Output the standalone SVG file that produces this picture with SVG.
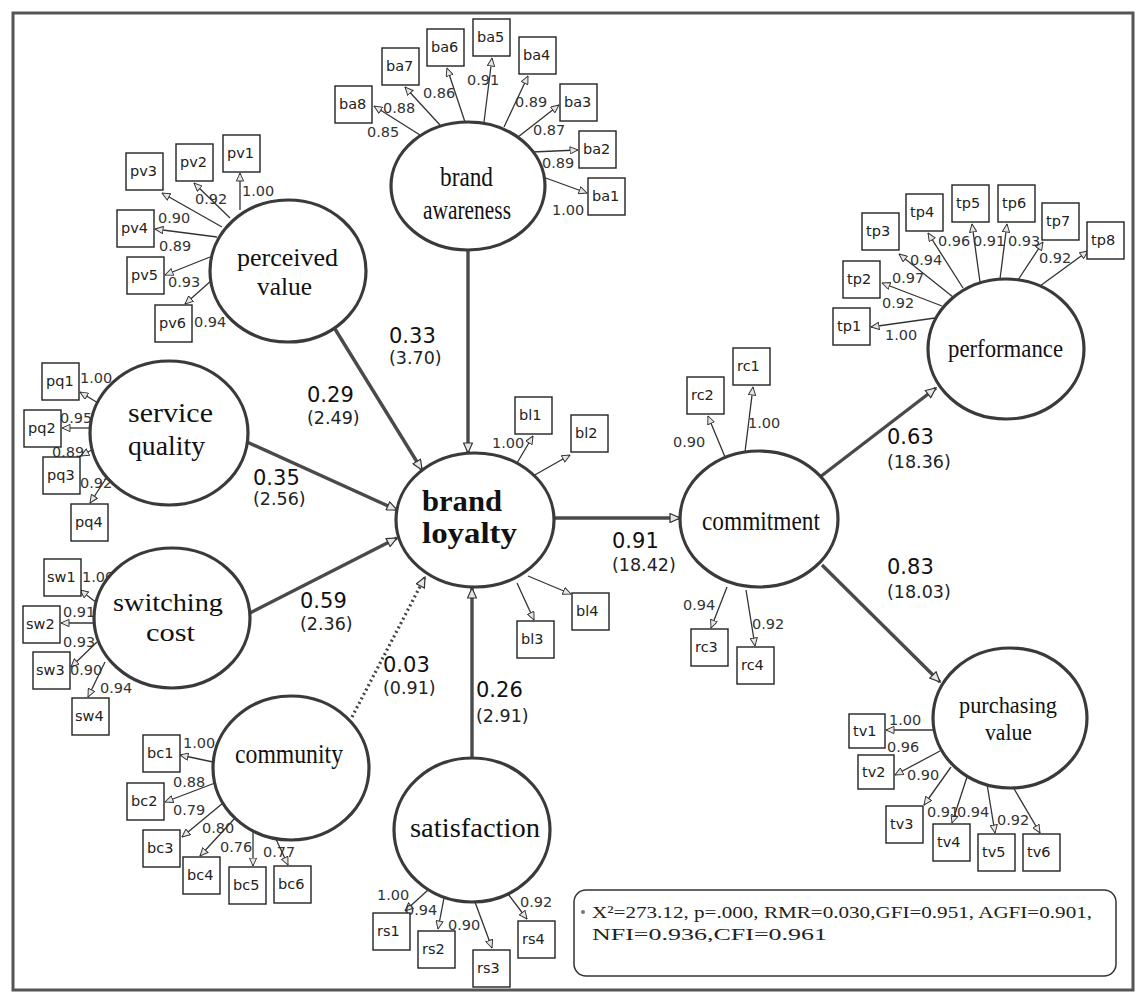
<svg xmlns="http://www.w3.org/2000/svg" width="1142" height="997" viewBox="0 0 1142 997">
<style>
.lat{fill:#fff;stroke:#3a3a3a;stroke-width:3.2}
.box{fill:#fff;stroke:#222;stroke-width:1.4}
.bt{font-family:"DejaVu Sans",sans-serif;font-size:14.5px;fill:#222}
.lt{font-family:"Liberation Serif",serif;font-size:26px;fill:#111}
.ld{font-family:"DejaVu Sans",sans-serif;font-size:14.5px;fill:#333}
.pc{font-family:"DejaVu Sans",sans-serif;font-size:21px;fill:#111}
.pt{font-family:"DejaVu Sans",sans-serif;font-size:17.5px;fill:#222}
.ind{stroke:#333;stroke-width:1.3;fill:none;marker-end:url(#ah)}
.str{stroke:#4a4a4a;stroke-width:3.4;fill:none;marker-end:url(#ahb)}
.dot{stroke:#444;stroke-width:3.2;fill:none;stroke-dasharray:2 3;marker-end:url(#ahb)}
.st{font-family:"Liberation Serif",serif;font-size:17px;fill:#222}
</style>
<defs>
<marker id="ah" viewBox="0 0 10 10" refX="10" refY="5" markerWidth="9" markerHeight="8" markerUnits="userSpaceOnUse" orient="auto"><path d="M0,0.5 L10,5 L0,9.5 z" fill="#e6e6e6" stroke="#333" stroke-width="1.2"/></marker>
<marker id="ahb" viewBox="0 0 10 10" refX="10" refY="5" markerWidth="12" markerHeight="10" markerUnits="userSpaceOnUse" orient="auto"><path d="M0,0.5 L10,5 L0,9.5 z" fill="#e6e6e6" stroke="#333" stroke-width="1.2"/></marker>
</defs>
<rect x="0" y="0" width="1142" height="997" fill="#fff"/>
<rect x="13" y="13" width="1120" height="977" fill="none" stroke="#555" stroke-width="3"/>

<g id="connectors">
<line class="str" x1="335" y1="329" x2="422" y2="470"/>
<line class="str" x1="468" y1="250" x2="468" y2="453"/>
<line class="str" x1="247" y1="442" x2="397" y2="510"/>
<line class="str" x1="250" y1="613" x2="397" y2="538"/>
<line class="dot" x1="352" y1="717" x2="425" y2="577"/>
<line class="str" x1="472" y1="758" x2="472" y2="588"/>
<line class="str" x1="555" y1="518" x2="680" y2="518"/>
<line class="str" x1="820" y1="477" x2="936" y2="388"/>
<line class="str" x1="822" y1="565" x2="940" y2="682"/>
<line class="ind" x1="420" y1="135" x2="374" y2="106"/>
<line class="ind" x1="440" y1="125" x2="405" y2="87"/>
<line class="ind" x1="465" y1="122" x2="447" y2="68"/>
<line class="ind" x1="484" y1="122" x2="492" y2="58"/>
<line class="ind" x1="504" y1="127" x2="528" y2="76"/>
<line class="ind" x1="518" y1="137" x2="559" y2="105"/>
<line class="ind" x1="532" y1="152" x2="578" y2="150"/>
<line class="ind" x1="543" y1="177" x2="587" y2="193"/>
<line class="ind" x1="240" y1="210" x2="240" y2="173"/>
<line class="ind" x1="230" y1="218" x2="194" y2="183"/>
<line class="ind" x1="222" y1="227" x2="162" y2="193"/>
<line class="ind" x1="217" y1="237" x2="155" y2="229"/>
<line class="ind" x1="210" y1="257" x2="165" y2="275"/>
<line class="ind" x1="212" y1="280" x2="185" y2="304"/>
<line class="ind" x1="98" y1="403" x2="80" y2="392"/>
<line class="ind" x1="92" y1="428" x2="62" y2="428"/>
<line class="ind" x1="95" y1="448" x2="81" y2="456"/>
<line class="ind" x1="107" y1="477" x2="90" y2="503"/>
<line class="ind" x1="97" y1="603" x2="80" y2="590"/>
<line class="ind" x1="94" y1="623" x2="61" y2="623"/>
<line class="ind" x1="97" y1="642" x2="71" y2="667"/>
<line class="ind" x1="105" y1="662" x2="88" y2="697"/>
<line class="ind" x1="213" y1="762" x2="180" y2="755"/>
<line class="ind" x1="215" y1="783" x2="165" y2="802"/>
<line class="ind" x1="223" y1="803" x2="182" y2="837"/>
<line class="ind" x1="235" y1="818" x2="200" y2="856"/>
<line class="ind" x1="253" y1="830" x2="253" y2="866"/>
<line class="ind" x1="275" y1="837" x2="288" y2="865"/>
<line class="ind" x1="428" y1="890" x2="405" y2="911"/>
<line class="ind" x1="444" y1="898" x2="438" y2="929"/>
<line class="ind" x1="475" y1="902" x2="492" y2="948"/>
<line class="ind" x1="508" y1="894" x2="527" y2="919"/>
<line class="ind" x1="517" y1="463" x2="533" y2="436"/>
<line class="ind" x1="533" y1="476" x2="570" y2="455"/>
<line class="ind" x1="517" y1="583" x2="534" y2="620"/>
<line class="ind" x1="528" y1="576" x2="571" y2="594"/>
<line class="ind" x1="745" y1="452" x2="753" y2="387"/>
<line class="ind" x1="725" y1="457" x2="708" y2="416"/>
<line class="ind" x1="727" y1="587" x2="711" y2="628"/>
<line class="ind" x1="746" y1="590" x2="755" y2="646"/>
<line class="ind" x1="935" y1="318" x2="871" y2="327"/>
<line class="ind" x1="942" y1="306" x2="882" y2="283"/>
<line class="ind" x1="953" y1="297" x2="899" y2="254"/>
<line class="ind" x1="963" y1="288" x2="928" y2="233"/>
<line class="ind" x1="980" y1="282" x2="972" y2="224"/>
<line class="ind" x1="1000" y1="279" x2="1007" y2="224"/>
<line class="ind" x1="1018" y1="280" x2="1043" y2="242"/>
<line class="ind" x1="1040" y1="286" x2="1088" y2="251"/>
<line class="ind" x1="933" y1="730" x2="886" y2="730"/>
<line class="ind" x1="940" y1="751" x2="895" y2="775"/>
<line class="ind" x1="951" y1="767" x2="924" y2="805"/>
<line class="ind" x1="967" y1="777" x2="952" y2="823"/>
<line class="ind" x1="987" y1="784" x2="995" y2="833"/>
<line class="ind" x1="1013" y1="787" x2="1040" y2="833"/>
<text class="pc" x="389" y="343">0.33</text><text class="pt" x="389" y="364">(3.70)</text>
<text class="pc" x="307" y="402">0.29</text><text class="pt" x="307" y="424">(2.49)</text>
<text class="pc" x="253" y="485">0.35</text><text class="pt" x="253" y="505">(2.56)</text>
<text class="pc" x="300" y="608">0.59</text><text class="pt" x="300" y="630">(2.36)</text>
<text class="pc" x="383" y="672">0.03</text><text class="pt" x="383" y="694">(0.91)</text>
<text class="pc" x="476" y="697">0.26</text><text class="pt" x="476" y="722">(2.91)</text>
<text class="pc" x="612" y="548">0.91</text><text class="pt" x="612" y="571">(18.42)</text>
<text class="pc" x="887" y="444">0.63</text><text class="pt" x="887" y="468">(18.36)</text>
<text class="pc" x="887" y="574">0.83</text><text class="pt" x="887" y="598">(18.03)</text>
<text class="ld" x="367" y="137">0.85</text>
<text class="ld" x="383" y="113">0.88</text>
<text class="ld" x="423" y="98">0.86</text>
<text class="ld" x="467" y="85">0.91</text>
<text class="ld" x="515" y="107">0.89</text>
<text class="ld" x="533" y="135">0.87</text>
<text class="ld" x="542" y="168">0.89</text>
<text class="ld" x="552" y="215">1.00</text>
<text class="ld" x="242" y="196">1.00</text>
<text class="ld" x="195" y="204">0.92</text>
<text class="ld" x="158" y="223">0.90</text>
<text class="ld" x="159" y="251">0.89</text>
<text class="ld" x="168" y="287">0.93</text>
<text class="ld" x="194" y="327">0.94</text>
<text class="ld" x="80" y="383">1.00</text>
<text class="ld" x="60" y="423">0.95</text>
<text class="ld" x="52" y="457">0.89</text>
<text class="ld" x="80" y="488">0.92</text>
<text class="ld" x="82" y="582">1.00</text>
<text class="ld" x="63" y="617">0.91</text>
<text class="ld" x="63" y="647">0.93</text>
<text class="ld" x="70" y="675">0.90</text>
<text class="ld" x="100" y="693">0.94</text>
<text class="ld" x="183" y="748">1.00</text>
<text class="ld" x="173" y="787">0.88</text>
<text class="ld" x="173" y="815">0.79</text>
<text class="ld" x="202" y="833">0.80</text>
<text class="ld" x="220" y="852">0.76</text>
<text class="ld" x="263" y="857">0.77</text>
<text class="ld" x="377" y="900">1.00</text>
<text class="ld" x="405" y="915">0.94</text>
<text class="ld" x="448" y="930">0.90</text>
<text class="ld" x="520" y="907">0.92</text>
<text class="ld" x="492" y="448">1.00</text>
<text class="ld" x="748" y="428">1.00</text>
<text class="ld" x="673" y="447">0.90</text>
<text class="ld" x="683" y="610">0.94</text>
<text class="ld" x="752" y="629">0.92</text>
<text class="ld" x="885" y="340">1.00</text>
<text class="ld" x="882" y="308">0.92</text>
<text class="ld" x="892" y="283">0.97</text>
<text class="ld" x="910" y="265">0.94</text>
<text class="ld" x="938" y="246">0.96</text>
<text class="ld" x="973" y="246">0.91</text>
<text class="ld" x="1008" y="246">0.93</text>
<text class="ld" x="1039" y="263">0.92</text>
<text class="ld" x="889" y="725">1.00</text>
<text class="ld" x="887" y="752">0.96</text>
<text class="ld" x="907" y="780">0.90</text>
<text class="ld" x="927" y="817">0.91</text>
<text class="ld" x="957" y="817">0.94</text>
<text class="ld" x="997" y="825">0.92</text>
</g>

<g id="brand-awareness"><ellipse class="lat" cx="468" cy="186" rx="77" ry="64"/><text class="lt" x="440" y="186" textLength="53" lengthAdjust="spacingAndGlyphs" style="font-size:28px">brand</text><text class="lt" x="423" y="219" textLength="88" lengthAdjust="spacingAndGlyphs" style="font-size:28px">awareness</text></g>
<g id="perceived-value"><ellipse class="lat" cx="288" cy="271" rx="78" ry="71"/><text class="lt" x="237" y="266" textLength="101" lengthAdjust="spacingAndGlyphs">perceived</text><text class="lt" x="257" y="295" textLength="55" lengthAdjust="spacingAndGlyphs">value</text></g>
<g id="service-quality"><ellipse class="lat" cx="169" cy="433" rx="79" ry="72"/><text class="lt" x="128" y="422" textLength="85" lengthAdjust="spacingAndGlyphs" style="font-size:27px">service</text><text class="lt" x="128" y="455" textLength="77" lengthAdjust="spacingAndGlyphs" style="font-size:27px">quality</text></g>
<g id="switching-cost"><ellipse class="lat" cx="172" cy="618" rx="78" ry="70"/><text class="lt" x="113" y="611" textLength="110" lengthAdjust="spacingAndGlyphs">switching</text><text class="lt" x="146" y="641" textLength="49" lengthAdjust="spacingAndGlyphs">cost</text></g>
<g id="community"><ellipse class="lat" cx="291" cy="768" rx="78" ry="72"/><text class="lt" x="235" y="763" textLength="108" lengthAdjust="spacingAndGlyphs" style="font-size:28px">community</text></g>
<g id="satisfaction"><ellipse class="lat" cx="472" cy="830" rx="78" ry="72"/><text class="lt" x="410" y="837" textLength="130" lengthAdjust="spacingAndGlyphs" style="font-size:28px">satisfaction</text></g>
<g id="brand-loyalty"><ellipse class="lat" cx="475" cy="520" rx="79" ry="67"/><text class="lt" x="422" y="511" textLength="80" lengthAdjust="spacingAndGlyphs" style="font-size:30px;font-weight:bold">brand</text><text class="lt" x="422" y="543" textLength="95" lengthAdjust="spacingAndGlyphs" style="font-size:30px;font-weight:bold">loyalty</text></g>
<g id="commitment"><ellipse class="lat" cx="759" cy="519" rx="79" ry="68"/><text class="lt" x="702" y="530" textLength="118" lengthAdjust="spacingAndGlyphs" style="font-size:27px">commitment</text></g>
<g id="performance"><ellipse class="lat" cx="1006" cy="349" rx="78" ry="70"/><text class="lt" x="948" y="357" textLength="115" lengthAdjust="spacingAndGlyphs">performance</text></g>
<g id="purchasing-value"><ellipse class="lat" cx="1010" cy="718" rx="77" ry="70"/><text class="lt" x="959" y="713" textLength="98" lengthAdjust="spacingAndGlyphs" style="font-size:24px">purchasing</text><text class="lt" x="985" y="740" textLength="47" lengthAdjust="spacingAndGlyphs" style="font-size:24px">value</text></g>

<g id="ba8"><rect class="box" x="335" y="86" width="37" height="37"/><text class="bt" x="339" y="109">ba8</text></g>
<g id="ba7"><rect class="box" x="382" y="48" width="37" height="37"/><text class="bt" x="386" y="71">ba7</text></g>
<g id="ba6"><rect class="box" x="427" y="29" width="37" height="37"/><text class="bt" x="431" y="52">ba6</text></g>
<g id="ba5"><rect class="box" x="473" y="19" width="37" height="37"/><text class="bt" x="477" y="42">ba5</text></g>
<g id="ba4"><rect class="box" x="519" y="37" width="37" height="37"/><text class="bt" x="523" y="60">ba4</text></g>
<g id="ba3"><rect class="box" x="560" y="84" width="37" height="37"/><text class="bt" x="564" y="107">ba3</text></g>
<g id="ba2"><rect class="box" x="579" y="131" width="37" height="37"/><text class="bt" x="583" y="154">ba2</text></g>
<g id="ba1"><rect class="box" x="588" y="178" width="37" height="37"/><text class="bt" x="592" y="201">ba1</text></g>
<g id="pv1"><rect class="box" x="223" y="135" width="37" height="37"/><text class="bt" x="227" y="158">pv1</text></g>
<g id="pv2"><rect class="box" x="176" y="144" width="37" height="37"/><text class="bt" x="180" y="167">pv2</text></g>
<g id="pv3"><rect class="box" x="126" y="153" width="37" height="37"/><text class="bt" x="130" y="176">pv3</text></g>
<g id="pv4"><rect class="box" x="117" y="210" width="37" height="37"/><text class="bt" x="121" y="233">pv4</text></g>
<g id="pv5"><rect class="box" x="127" y="257" width="37" height="37"/><text class="bt" x="131" y="280">pv5</text></g>
<g id="pv6"><rect class="box" x="155" y="305" width="37" height="37"/><text class="bt" x="159" y="328">pv6</text></g>
<g id="pq1"><rect class="box" x="42" y="363" width="37" height="37"/><text class="bt" x="46" y="386">pq1</text></g>
<g id="pq2"><rect class="box" x="24" y="410" width="37" height="37"/><text class="bt" x="28" y="433">pq2</text></g>
<g id="pq3"><rect class="box" x="43" y="457" width="37" height="37"/><text class="bt" x="47" y="480">pq3</text></g>
<g id="pq4"><rect class="box" x="71" y="504" width="37" height="37"/><text class="bt" x="75" y="527">pq4</text></g>
<g id="sw1"><rect class="box" x="44" y="559" width="37" height="37"/><text class="bt" x="47" y="582">sw1</text></g>
<g id="sw2"><rect class="box" x="23" y="606" width="37" height="37"/><text class="bt" x="26" y="629">sw2</text></g>
<g id="sw3"><rect class="box" x="33" y="652" width="37" height="37"/><text class="bt" x="36" y="675">sw3</text></g>
<g id="sw4"><rect class="box" x="72" y="698" width="37" height="37"/><text class="bt" x="75" y="721">sw4</text></g>
<g id="bc1"><rect class="box" x="143" y="735" width="37" height="37"/><text class="bt" x="147" y="758">bc1</text></g>
<g id="bc2"><rect class="box" x="127" y="783" width="37" height="37"/><text class="bt" x="131" y="806">bc2</text></g>
<g id="bc3"><rect class="box" x="143" y="830" width="37" height="37"/><text class="bt" x="147" y="853">bc3</text></g>
<g id="bc4"><rect class="box" x="183" y="857" width="37" height="37"/><text class="bt" x="187" y="880">bc4</text></g>
<g id="bc5"><rect class="box" x="229" y="867" width="37" height="37"/><text class="bt" x="233" y="890">bc5</text></g>
<g id="bc6"><rect class="box" x="274" y="866" width="37" height="37"/><text class="bt" x="278" y="889">bc6</text></g>
<g id="rs1"><rect class="box" x="373" y="913" width="37" height="37"/><text class="bt" x="377" y="936">rs1</text></g>
<g id="rs2"><rect class="box" x="418" y="931" width="37" height="37"/><text class="bt" x="422" y="954">rs2</text></g>
<g id="rs3"><rect class="box" x="473" y="950" width="37" height="37"/><text class="bt" x="477" y="973">rs3</text></g>
<g id="rs4"><rect class="box" x="518" y="921" width="37" height="37"/><text class="bt" x="522" y="944">rs4</text></g>
<g id="bl1"><rect class="box" x="515" y="397" width="37" height="37"/><text class="bt" x="519" y="420">bl1</text></g>
<g id="bl2"><rect class="box" x="571" y="415" width="37" height="37"/><text class="bt" x="575" y="438">bl2</text></g>
<g id="bl3"><rect class="box" x="517" y="621" width="37" height="37"/><text class="bt" x="521" y="644">bl3</text></g>
<g id="bl4"><rect class="box" x="572" y="593" width="37" height="37"/><text class="bt" x="576" y="616">bl4</text></g>
<g id="rc1"><rect class="box" x="733" y="348" width="37" height="37"/><text class="bt" x="737" y="371">rc1</text></g>
<g id="rc2"><rect class="box" x="687" y="377" width="37" height="37"/><text class="bt" x="691" y="400">rc2</text></g>
<g id="rc3"><rect class="box" x="691" y="629" width="37" height="37"/><text class="bt" x="695" y="652">rc3</text></g>
<g id="rc4"><rect class="box" x="737" y="647" width="37" height="37"/><text class="bt" x="741" y="670">rc4</text></g>
<g id="tp1"><rect class="box" x="833" y="308" width="37" height="37"/><text class="bt" x="837" y="331">tp1</text></g>
<g id="tp2"><rect class="box" x="843" y="261" width="37" height="37"/><text class="bt" x="847" y="284">tp2</text></g>
<g id="tp3"><rect class="box" x="862" y="213" width="37" height="37"/><text class="bt" x="866" y="236">tp3</text></g>
<g id="tp4"><rect class="box" x="906" y="194" width="37" height="37"/><text class="bt" x="910" y="217">tp4</text></g>
<g id="tp5"><rect class="box" x="952" y="185" width="37" height="37"/><text class="bt" x="956" y="208">tp5</text></g>
<g id="tp6"><rect class="box" x="998" y="185" width="37" height="37"/><text class="bt" x="1002" y="208">tp6</text></g>
<g id="tp7"><rect class="box" x="1042" y="203" width="37" height="37"/><text class="bt" x="1046" y="226">tp7</text></g>
<g id="tp8"><rect class="box" x="1087" y="222" width="37" height="37"/><text class="bt" x="1091" y="245">tp8</text></g>
<g id="tv1"><rect class="box" x="849" y="714" width="36" height="34"/><text class="bt" x="853" y="736">tv1</text></g>
<g id="tv2"><rect class="box" x="858" y="755" width="36" height="34"/><text class="bt" x="862" y="777">tv2</text></g>
<g id="tv3"><rect class="box" x="886" y="806" width="37" height="37"/><text class="bt" x="890" y="829">tv3</text></g>
<g id="tv4"><rect class="box" x="933" y="824" width="37" height="37"/><text class="bt" x="937" y="847">tv4</text></g>
<g id="tv5"><rect class="box" x="978" y="834" width="37" height="37"/><text class="bt" x="982" y="857">tv5</text></g>
<g id="tv6"><rect class="box" x="1023" y="834" width="37" height="37"/><text class="bt" x="1027" y="857">tv6</text></g>

<g id="fit-stats">
<rect x="574" y="890" width="542" height="86" rx="12" fill="#fff" stroke="#333" stroke-width="1.5"/>
<circle cx="583" cy="912" r="2" fill="#777"/>
<text class="st" x="592" y="918" textLength="500" lengthAdjust="spacingAndGlyphs">X²=273.12, p=.000, RMR=0.030,GFI=0.951, AGFI=0.901,</text>
<text class="st" x="592" y="940" textLength="235" lengthAdjust="spacingAndGlyphs">NFI=0.936,CFI=0.961</text>
</g>
</svg>
